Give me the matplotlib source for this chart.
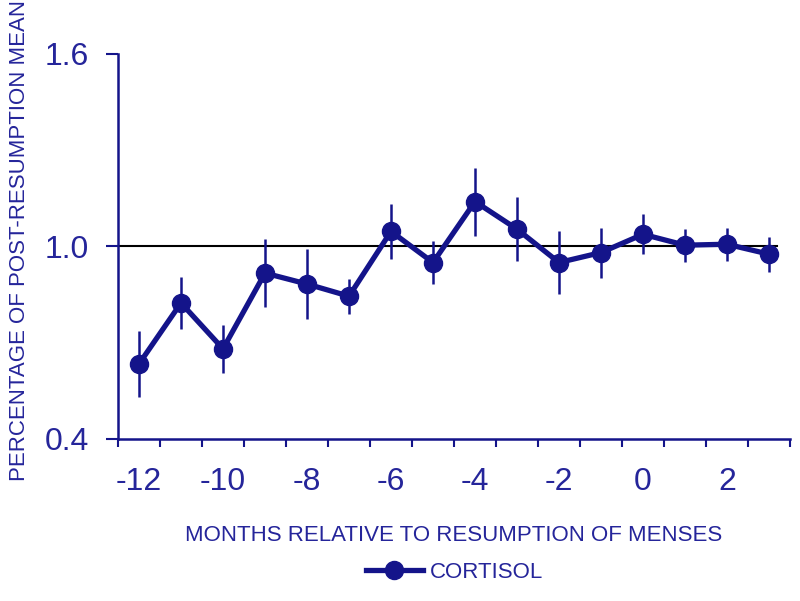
import numpy as np
import matplotlib
matplotlib.use("Agg")
from matplotlib import pyplot as plt
from matplotlib.ticker import FixedLocator
from matplotlib.lines import Line2D

plt.rcParams["font.family"] = ["Liberation Sans", "DejaVu Sans"]

# data
months = [-12, -11, -10, -9, -8, -7, -6, -5, -4, -3, -2, -1, 0, 1, 2, 3]
cortisol = [0.634, 0.824, 0.681, 0.917, 0.883, 0.845, 1.047, 0.950,
            1.140, 1.054, 0.950, 0.981, 1.038, 1.004, 1.007, 0.976]
cortisol_err = [0.104, 0.081, 0.075, 0.107, 0.109, 0.054, 0.085, 0.067,
                0.106, 0.100, 0.097, 0.078, 0.062, 0.051, 0.051, 0.055]
x_labels = [-12, -10, -8, -6, -4, -2, 0, 2]
y_ticks = [0.4, 1.0, 1.6]

NAVY = "#14148a"
TEXT = "#25259a"

fig = plt.figure(figsize=(8, 6.01), dpi=100)
ax = fig.add_axes([0.1475, 0.2696, 0.84, 0.6406])

ax.plot([-12.5, 3.2], [1.0, 1.0], color="black", linewidth=1.5, zorder=1)
ax.errorbar(months, cortisol, yerr=cortisol_err, fmt="-o", color=NAVY,
            ecolor=NAVY, elinewidth=1.8, capsize=0, linewidth=3.8,
            markersize=13, zorder=3)

ax.set_xlim(-12.5, 3.5)
ax.set_ylim(0.4, 1.6)

# labels at integers, tick marks between categories
ax.set_xticks(x_labels)
ax.set_xticklabels([str(v) for v in x_labels])
ax.xaxis.set_minor_locator(FixedLocator(np.arange(-12.5, 3.6, 1.0)))
ax.tick_params(axis="x", which="major", length=0, pad=20, labelsize=23, labelcolor=TEXT)
ax.tick_params(axis="x", which="minor", length=6, width=1.5, color=NAVY, direction="out")

ax.set_yticks(y_ticks)
ax.set_yticklabels(["%.1f" % v for v in y_ticks])
ax.tick_params(axis="y", length=9, width=1.5, color=NAVY, pad=12, labelsize=23, labelcolor=TEXT)

for side in ["top", "right"]:
    ax.spines[side].set_visible(False)
for side in ["left", "bottom"]:
    ax.spines[side].set_color(NAVY)
    ax.spines[side].set_linewidth(1.8)

ax.set_xlabel("MONTHS RELATIVE TO RESUMPTION OF MENSES", fontsize=16, color=TEXT, labelpad=20)
fig.text(0.024, 0.60, "PERCENTAGE OF POST-RESUMPTION MEAN", rotation=90,
         fontsize=16, color=TEXT, ha="center", va="center")

handle = Line2D([], [], color=NAVY, linewidth=3.8, marker="o", markersize=13)
leg = fig.legend([handle], ["CORTISOL"], loc="center", bbox_to_anchor=(0.568, 0.047),
                 frameon=False, fontsize=16, handlelength=2.6, handletextpad=0.3)
for t in leg.get_texts():
    t.set_color(TEXT)

fig.savefig("out.png", dpi=100)
